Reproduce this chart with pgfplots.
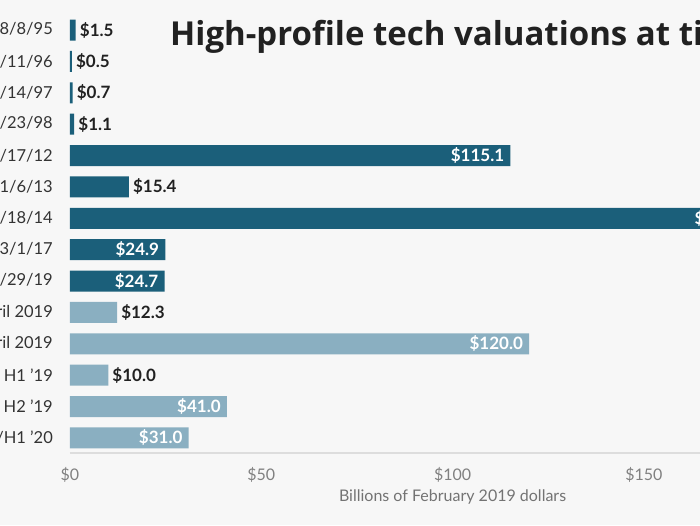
\documentclass[border=0pt]{standalone}
\usepackage{pgfplots}
\pgfplotsset{compat=1.18}
\usepackage{fontspec}
\setmainfont{Lato}
\newfontfamily\titlefont{Open Sans}
\definecolor{bg}{HTML}{F7F7F7}
\definecolor{dark}{HTML}{1B5F7A}
\definecolor{light}{HTML}{8AAFC1}
\definecolor{axisgray}{HTML}{DDDDDD}
\definecolor{ticktext}{HTML}{808080}
\definecolor{labtext}{HTML}{333333}
\begin{document}
\begin{tikzpicture}[x=1pt,y=1pt]
\fill[bg] (0,0) rectangle (700,525);
\begin{scope}
\clip (0,0) rectangle (700,525);
\begin{axis}[
  at={(70pt,72pt)}, anchor=south west,
  scale only axis, width=765.2pt, height=453pt,
  xmin=0, xmax=200, ymin=0.044, ymax=14.48,
  enlargelimits=false,
  y dir=reverse,
  xbar, bar width=21pt, bar shift=0pt,
  axis lines*=left,
  y axis line style={draw=none},
  x axis line style={draw=axisgray, line width=1.5pt},
  major tick length=0pt,
  /pgf/number format/assume math mode=true,
  xtick={0,50,100,150,200},
  xticklabel={\$\pgfmathprintnumber{\tick}},
  xticklabel style={font=\fontsize{16}{18}\selectfont, text=ticktext, inner sep=0pt, anchor=north, yshift=-14pt},
  ytick={1,...,14},
  yticklabels={Netscape 8/8/95, Yahoo 4/11/96, Amazon 5/14/97, eBay 9/23/98, Facebook 5/17/12, Twitter 11/6/13, Alibaba 9/18/14, Snap 3/1/17, Lyft 3/29/19, Pinterest April 2019, Uber April 2019, Slack H1 '19, Airbnb H2 '19, Palantir H2 '19/H1 '20},
  yticklabel style={font=\fontsize{16.5}{18}\selectfont, text=labtext, inner sep=0pt, anchor=east, xshift=-17pt},
  xlabel={Billions of February 2019 dollars},
  xlabel style={font=\fontsize{16}{18}\selectfont, text=ticktext!90!black, at={(axis description cs:0.5,0)}, anchor=north, inner sep=0pt, yshift=-37pt},
  point meta=x,
]
\addplot[fill=dark, draw=none] coordinates {(1.5,1) (0.5,2) (0.7,3) (1.1,4) (115.1,5) (15.4,6) (178.8,7) (24.9,8) (24.7,9)};
\addplot[fill=light, draw=none] coordinates {(12.3,10) (120.0,11) (10.0,12) (41.0,13) (31.0,14)};
% labels outside bars
\addplot[draw=none, fill=none, nodes near coords={\$\pgfmathprintnumber[fixed,fixed zerofill,precision=1]{\pgfplotspointmeta}},
  nodes near coords style={font=\bfseries\fontsize{17}{19}\selectfont, text=black!87, anchor=west, inner sep=0pt, xshift=4pt}]
  coordinates {(1.5,1) (0.5,2) (0.7,3) (1.1,4) (15.4,6) (12.3,10) (10.0,12)};
% labels inside bars
\addplot[draw=none, fill=none, nodes near coords={\$\pgfmathprintnumber[fixed,fixed zerofill,precision=1]{\pgfplotspointmeta}},
  nodes near coords style={font=\bfseries\fontsize{17}{19}\selectfont, text=white, anchor=east, inner sep=0pt, xshift=-6pt}]
  coordinates {(115.1,5) (178.8,7) (24.9,8) (24.7,9) (120.0,11) (41.0,13) (31.0,14)};
\end{axis}
\node[anchor=base west, inner sep=0pt, font=\titlefont\bfseries\fontsize{33}{37}\selectfont, text=black!87] at (170,479) {High-profile tech valuations at time of IPO};
\end{scope}
\pgfresetboundingbox
\useasboundingbox (0,0) rectangle (700,525);
\end{tikzpicture}
\end{document}
